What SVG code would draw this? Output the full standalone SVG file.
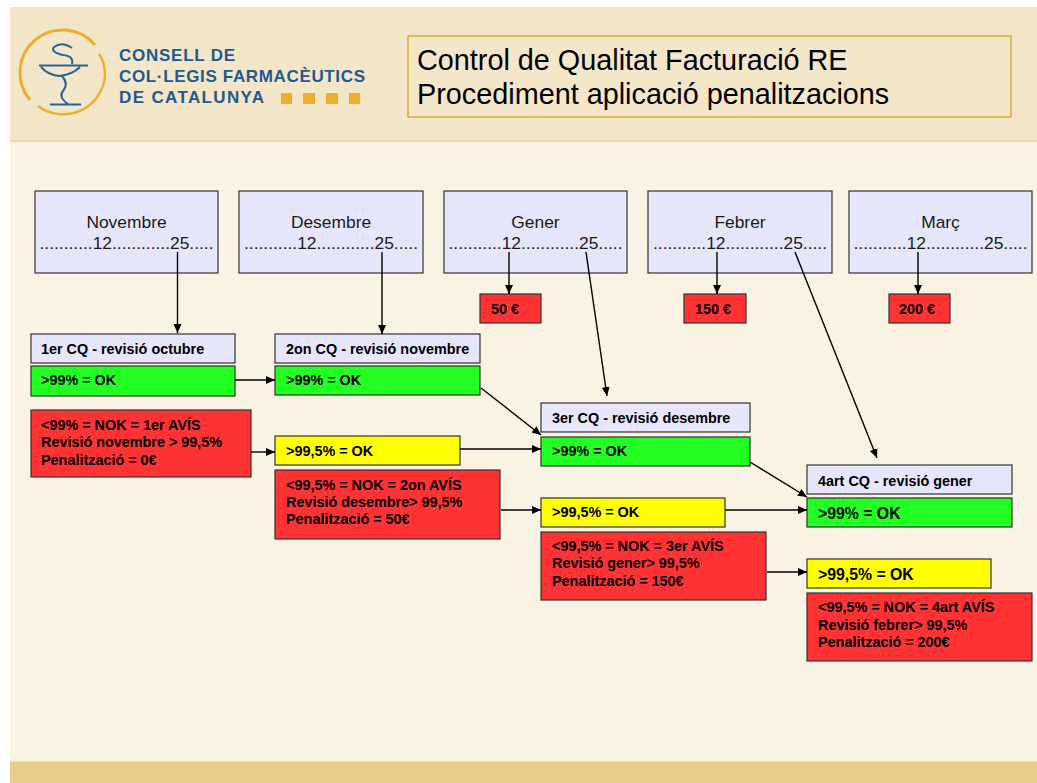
<svg xmlns="http://www.w3.org/2000/svg" width="1037" height="783" viewBox="0 0 1037 783">
<style>
text{font-family:"Liberation Sans",Arial,sans-serif;fill:#000}
.m{font-size:17.4px;fill:#1a1a1a}
.b{font-size:14.4px;font-weight:bold}
.l{font-size:15.8px;font-weight:bold}
.box{stroke:#333;stroke-width:1.2}
.lav{fill:#e6e6fc}.grn{fill:#22ff22}.yel{fill:#ffff00}.red{fill:#ff3333}
.c{stroke:#000;stroke-width:1.4;fill:none;marker-end:url(#a)}
.logo{font-size:17px;font-weight:bold;fill:#1f5a8e}
</style>
<defs><marker id="a" markerUnits="userSpaceOnUse" markerWidth="10" markerHeight="9" refX="9" refY="4" orient="auto"><path d="M0 0L9 4L0 8z" fill="#000"/></marker></defs>
<rect width="1037" height="783" fill="#fff"/>
<rect x="10" y="7" width="1027" height="776" fill="#f9f3e3"/>
<rect x="10" y="7" width="1027" height="133" fill="#f4e6c8"/>
<rect x="10" y="140" width="1027" height="2" fill="#eed9a6"/>
<rect x="10" y="761" width="1027" height="1" fill="#f0dcae"/>
<rect x="10" y="762" width="1027" height="21" fill="#e9cc8a"/>
<g id="logo">
<path d="M95 45A42 42 0 0 0 30 100" fill="none" stroke="#ecb02c" stroke-width="3"/>
<path d="M38 106A42 42 0 0 0 105 76Q105 62 99 54" fill="none" stroke="#ecb02c" stroke-width="2.4"/>
<path d="M39 65.500H88M41 67Q48 75 59 76Q72 75 80 67M62 76Q69 84 63 91Q58 97 68 104M50 104.500H81M72 64Q74 56 63 55Q50 52 54 47Q62 41 72 48" fill="none" stroke="#2a639a" stroke-width="2"/>
<text class="logo" x="119" y="61" textLength="116">CONSELL DE</text>
<text class="logo" x="119" y="82" textLength="246">COL·LEGIS FARMACÈUTICS</text>
<text class="logo" x="119" y="103" textLength="145">DE CATALUNYA</text>
<g fill="#ecb02c"><rect x="281" y="93" width="11" height="11"/><rect x="303" y="93" width="12" height="11"/><rect x="326" y="93" width="12" height="11"/><rect x="349" y="93" width="11" height="11"/></g>
</g>
<g id="title">
<rect x="408" y="36" width="603" height="81" fill="#f4e6c8" stroke="#d9a520" stroke-width="1.3"/>
<text x="417" y="70" font-size="28.800" fill="#111">Control de Qualitat Facturació RE</text>
<text x="417" y="104" font-size="28.800" fill="#111">Procediment aplicació penalitzacions</text>
</g>
<g id="m1"><rect class="box lav" x="35" y="191" width="183" height="82"/><text class="m" x="126.500" y="228" text-anchor="middle">Novembre</text><text class="m" x="126.500" y="249" text-anchor="middle">...........12............25.....</text></g>
<g id="m2"><rect class="box lav" x="239" y="191" width="184" height="82"/><text class="m" x="331" y="228" text-anchor="middle">Desembre</text><text class="m" x="331" y="249" text-anchor="middle">...........12............25.....</text></g>
<g id="m3"><rect class="box lav" x="444" y="191" width="183" height="82"/><text class="m" x="535.500" y="228" text-anchor="middle">Gener</text><text class="m" x="535.500" y="249" text-anchor="middle">...........12............25.....</text></g>
<g id="m4"><rect class="box lav" x="648" y="191" width="184" height="82"/><text class="m" x="740" y="228" text-anchor="middle">Febrer</text><text class="m" x="740" y="249" text-anchor="middle">...........12............25.....</text></g>
<g id="m5"><rect class="box lav" x="849" y="191" width="183" height="82"/><text class="m" x="940.500" y="228" text-anchor="middle">Març</text><text class="m" x="940.500" y="249" text-anchor="middle">...........12............25.....</text></g>
<g id="p50"><rect class="box red" x="480" y="294" width="61" height="29"/><text class="b" x="491" y="314">50 €</text></g>
<g id="p150"><rect class="box red" x="684" y="294" width="62" height="29"/><text class="b" x="695" y="314">150 €</text></g>
<g id="p200"><rect class="box red" x="889" y="294" width="61" height="29"/><text class="b" x="899" y="314">200 €</text></g>
<g id="cq1"><rect class="box lav" x="31" y="334" width="204" height="29"/><text class="b" x="41" y="354">1er CQ - revisió octubre</text></g>
<g id="ok1"><rect class="box grn" x="31" y="366" width="204" height="30"/><text class="b" x="41" y="385">&gt;99% = OK</text></g>
<g id="nok1"><rect class="box red" x="31" y="410" width="220" height="67"/><text class="b" x="41" y="430">&lt;99% = NOK = 1er AVÍS</text><text class="b" x="41" y="447">Revisió novembre &gt; 99,5%</text><text class="b" x="41" y="465">Penalització = 0€</text></g>
<g id="cq2"><rect class="box lav" x="275" y="334" width="205" height="29"/><text class="b" x="286" y="354">2on CQ - revisió novembre</text></g>
<g id="ok2"><rect class="box grn" x="275" y="366" width="205" height="29"/><text class="b" x="286" y="385">&gt;99% = OK</text></g>
<g id="y2"><rect class="box yel" x="275" y="436" width="185" height="29"/><text class="b" x="286" y="456">&gt;99,5% = OK</text></g>
<g id="nok2"><rect class="box red" x="275" y="470" width="225" height="69"/><text class="b" x="286" y="490">&lt;99,5% = NOK = 2on AVÍS</text><text class="b" x="286" y="507">Revisió desembre&gt; 99,5%</text><text class="b" x="286" y="524">Penalització = 50€</text></g>
<g id="cq3"><rect class="box lav" x="541" y="403" width="209" height="29"/><text class="b" x="552" y="423">3er CQ - revisió desembre</text></g>
<g id="ok3"><rect class="box grn" x="541" y="437" width="209" height="29"/><text class="b" x="552" y="456">&gt;99% = OK</text></g>
<g id="y3"><rect class="box yel" x="541" y="498" width="184" height="29"/><text class="b" x="552" y="517">&gt;99,5% = OK</text></g>
<g id="nok3"><rect class="box red" x="541" y="532" width="225" height="68"/><text class="b" x="552" y="551">&lt;99,5% = NOK = 3er AVÍS</text><text class="b" x="552" y="568">Revisió gener&gt; 99,5%</text><text class="b" x="552" y="586">Penalització = 150€</text></g>
<g id="cq4"><rect class="box lav" x="807" y="465" width="205" height="29"/><text class="b" x="818" y="486">4art CQ - revisió gener</text></g>
<g id="ok4"><rect class="box grn" x="807" y="498" width="205" height="29"/><text class="l" x="818" y="519">&gt;99% = OK</text></g>
<g id="y4"><rect class="box yel" x="807" y="559" width="184" height="29"/><text class="l" x="818" y="580">&gt;99,5% = OK</text></g>
<g id="nok4"><rect class="box red" x="807" y="593" width="225" height="68"/><text class="b" x="818" y="612">&lt;99,5% = NOK = 4art AVÍS</text><text class="b" x="818" y="630">Revisió febrer&gt; 99,5%</text><text class="b" x="818" y="647">Penalització = 200€</text></g>
<g id="connectors">
<path class="c" d="M177.500 252V333"/>
<path class="c" d="M382 252V334"/>
<path class="c" d="M509 252V294"/>
<path class="c" d="M717 252V294"/>
<path class="c" d="M918 252V294"/>
<path class="c" d="M586 252L607 396"/>
<path class="c" d="M795 252L877 458"/>
<path class="c" d="M235 380H275"/>
<path class="c" d="M481 388L541 435"/>
<path class="c" d="M251 452H275"/>
<path class="c" d="M460 449H541"/>
<path class="c" d="M501 510H541"/>
<path class="c" d="M750 462L807 497"/>
<path class="c" d="M725 510H807"/>
<path class="c" d="M767 572H807"/>
</g>
</svg>
